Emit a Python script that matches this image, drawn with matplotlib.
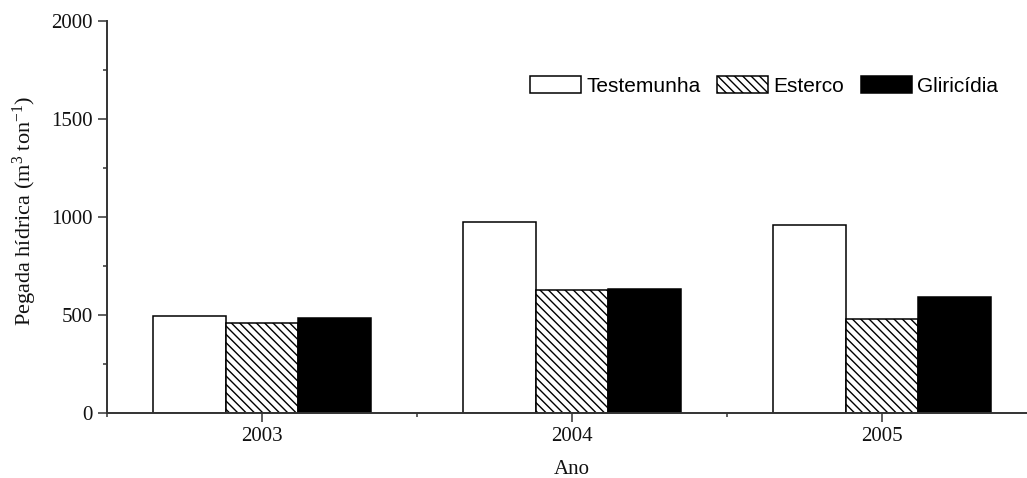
import matplotlib
matplotlib.use("Agg")
import matplotlib.pyplot as plt
import numpy as np
from matplotlib.patches import Patch

years = [2003, 2004, 2005]
series_names = ["Testemunha", "Esterco", "Gliricídia"]
testemunha = [496, 975, 957]
esterco = [460, 627, 479]
gliricidia = [483, 632, 593]
y_ticks = [0, 500, 1000, 1500, 2000]

plt.rcParams["mathtext.fontset"] = "custom"
plt.rcParams["mathtext.rm"] = "Liberation Serif"
plt.rcParams["mathtext.it"] = "Liberation Serif:italic"
plt.rcParams["hatch.linewidth"] = 1.0

serif = "Liberation Serif"
sans = "Liberation Sans"
fs = 15

fig = plt.figure(figsize=(10.27, 4.78), dpi=100)
ax = fig.add_axes([107 / 1027, 1 - 413 / 478, 930 / 1027, (413 - 20.7) / 478])

x = np.array(years, dtype=float)
w = 0.234
styles = [
    dict(facecolor="white", hatch=None),
    dict(facecolor="white", hatch="\\\\\\\\"),
    dict(facecolor="black", hatch=None),
]
handles = []
for i, (vals, st, name) in enumerate(zip([testemunha, esterco, gliricidia], styles, series_names)):
    ax.bar(x + (i - 1) * w, vals, width=w, facecolor=st["facecolor"], edgecolor="black",
           hatch=st["hatch"], linewidth=1.1, zorder=2)
    handles.append(Patch(facecolor=st["facecolor"], edgecolor="black", hatch=st["hatch"],
                         linewidth=1.1, label=name))

ax.set_xlim(2002.5, 2005.5)
ax.set_ylim(0, 2000)
ax.set_xticks(years)
ax.set_xticklabels([str(y) for y in years])
ax.set_xticks([2002.5, 2003.5, 2004.5, 2005.5], minor=True)
ax.set_yticks(y_ticks)
ax.set_yticks([250, 750, 1250, 1750], minor=True)

for side in ["top", "right"]:
    ax.spines[side].set_visible(False)
for side in ["left", "bottom"]:
    ax.spines[side].set_color("#333333")
    ax.spines[side].set_linewidth(1.4)

ax.tick_params(which="major", direction="out", length=6.5, width=1.1, color="#333333",
               pad=3.5, labelsize=fs, labelcolor="#111111")
ax.tick_params(which="minor", direction="out", length=3, width=1.1, color="#333333")
for lab in ax.get_xticklabels() + ax.get_yticklabels():
    lab.set_fontfamily(serif)

fig.text(25 / 1027, 1 - 211 / 478, r"Pegada hídrica (m$^{3}$ ton$^{-1}$)", rotation=90,
         ha="center", va="center", fontsize=16, family=serif, color="#111111")
fig.text(572 / 1027, 1 - 469 / 478, "Ano", ha="center", va="center", fontsize=fs,
         family=serif, color="#111111")

leg = ax.legend(handles=handles, ncol=3, frameon=False, loc="center left",
                prop={"family": sans, "size": fs}, handlelength=2.45, handleheight=0.9,
                handletextpad=0.25, columnspacing=0.8, borderpad=0, borderaxespad=0)
leg.set_bbox_to_anchor((530 / 1027, 1 - 86 / 478), transform=fig.transFigure)

fig.savefig("out.png", dpi=100)
